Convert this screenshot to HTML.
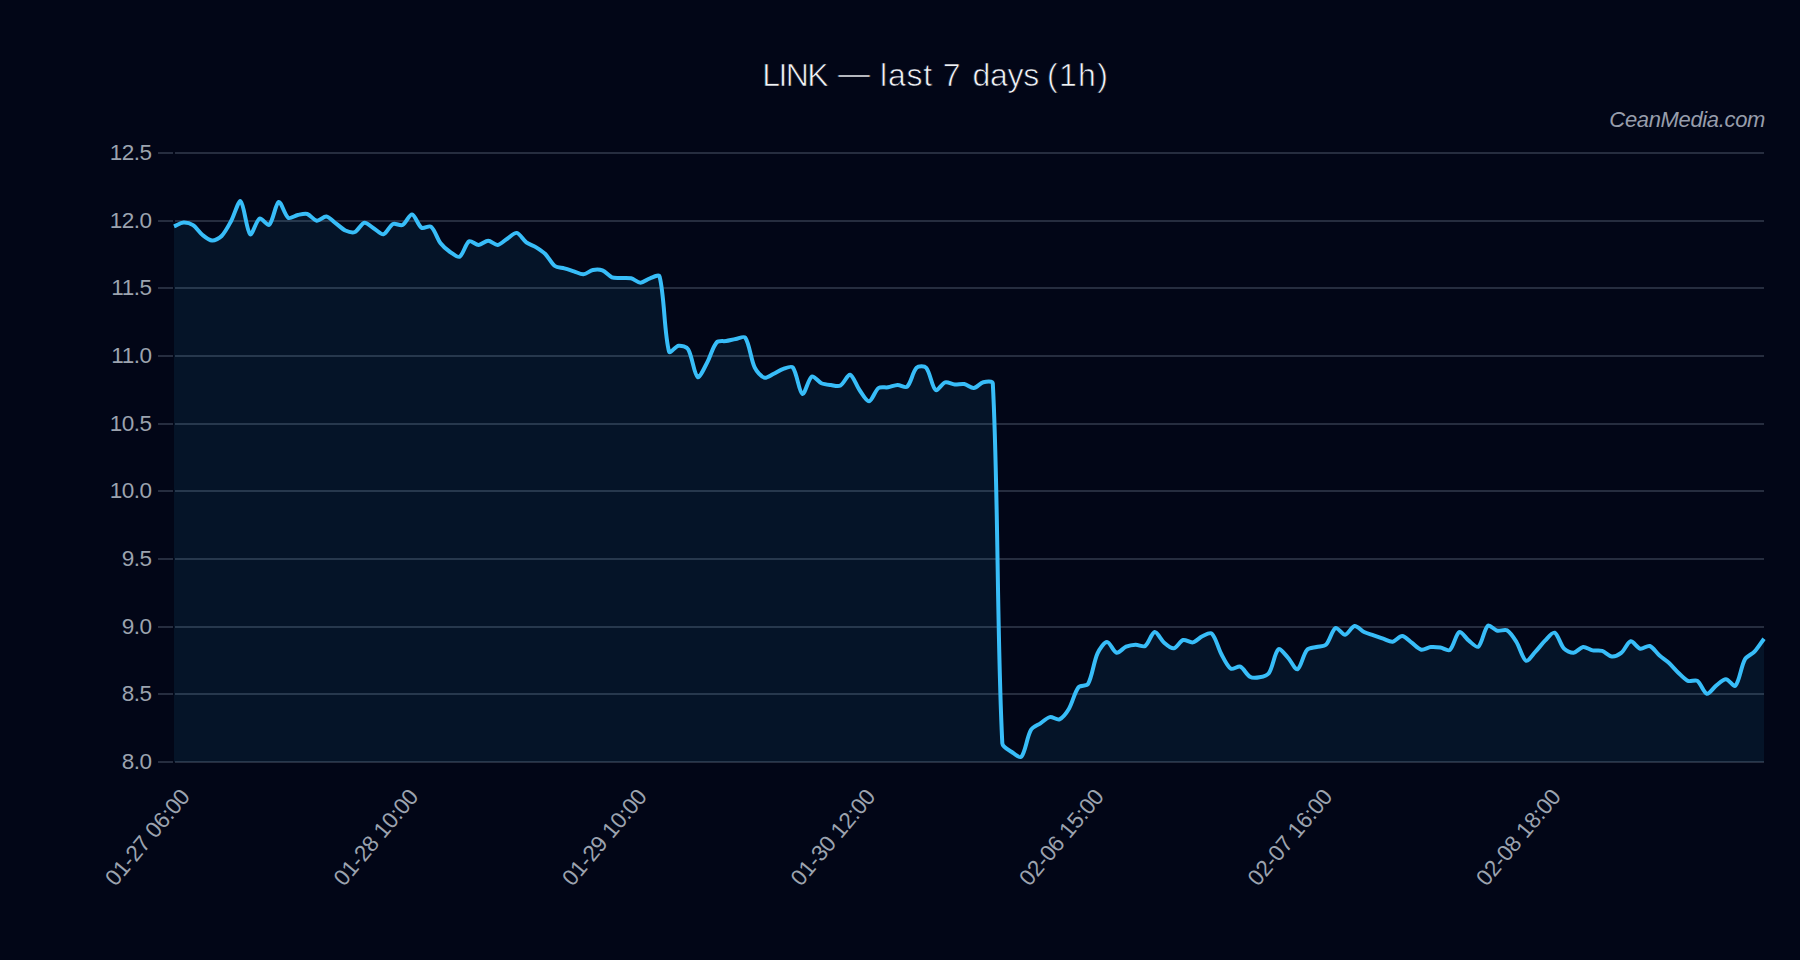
<!DOCTYPE html>
<html lang="en"><head><meta charset="utf-8"><title>LINK — last 7 days (1h)</title>
<style>
html,body{margin:0;padding:0;background:#020617;}
body{width:1800px;height:960px;overflow:hidden;font-family:"Liberation Sans",sans-serif;}
svg{display:block}
text{font-family:"Liberation Sans",sans-serif;}
.title{font-size:32px;fill:#f1f3f6;stroke:#020617;stroke-width:0.7px;}
.wm{font-size:22px;font-style:italic;fill:#979dab;letter-spacing:-0.35px;}
.yt{font-size:22.5px;fill:#9ca3af;letter-spacing:-0.45px;}
.xt{font-size:22.5px;fill:#9ca3af;letter-spacing:-0.25px;}
</style></head><body>
<svg width="1800" height="960" viewBox="0 0 1800 960">
<rect width="1800" height="960" fill="#020617"/>
<rect x="158" y="152" width="1606" height="2" fill="rgba(148,163,184,0.25)"/>
<rect x="158" y="220" width="1606" height="2" fill="rgba(148,163,184,0.25)"/>
<rect x="158" y="287" width="1606" height="2" fill="rgba(148,163,184,0.25)"/>
<rect x="158" y="355" width="1606" height="2" fill="rgba(148,163,184,0.25)"/>
<rect x="158" y="423" width="1606" height="2" fill="rgba(148,163,184,0.25)"/>
<rect x="158" y="490" width="1606" height="2" fill="rgba(148,163,184,0.25)"/>
<rect x="158" y="558" width="1606" height="2" fill="rgba(148,163,184,0.25)"/>
<rect x="158" y="626" width="1606" height="2" fill="rgba(148,163,184,0.25)"/>
<rect x="158" y="693" width="1606" height="2" fill="rgba(148,163,184,0.25)"/>
<rect x="158" y="761" width="1606" height="2" fill="rgba(148,163,184,0.25)"/>

<rect x="173" y="152" width="2" height="611" fill="#020617"/>
<path d="M174.00 226.40 C176.86 225.23 180.61 222.68 183.52 222.50 C186.32 222.32 190.64 223.62 193.04 225.20 C196.35 227.37 199.40 232.46 202.56 235.00 C205.11 237.05 209.17 240.35 212.08 240.50 C214.88 240.65 219.48 238.18 221.60 236.00 C225.19 232.33 228.57 225.66 231.13 221.00 C234.28 215.25 238.42 199.76 240.65 201.30 C244.13 203.72 246.45 230.84 250.17 234.20 C252.16 236.00 256.17 220.24 259.69 218.50 C261.88 217.42 267.40 226.36 269.21 224.80 C273.12 221.41 275.46 203.20 278.73 202.00 C281.17 201.10 284.54 215.26 288.25 217.80 C290.25 219.16 294.86 215.58 297.77 215.00 C300.58 214.44 304.72 213.23 307.29 214.00 C310.43 214.94 313.80 220.30 316.81 220.70 C319.51 221.05 323.65 216.13 326.34 216.50 C329.36 216.91 333.03 221.22 335.86 223.30 C338.74 225.42 342.22 229.06 345.38 230.50 C347.93 231.67 352.50 232.98 354.90 232.00 C358.21 230.64 361.31 223.27 364.42 222.70 C367.02 222.22 371.08 226.76 373.94 228.50 C376.80 230.24 380.93 234.90 383.46 234.30 C386.64 233.55 389.59 225.66 392.98 224.00 C395.30 222.87 400.20 226.15 402.50 225.00 C405.91 223.30 409.36 214.12 412.02 214.50 C415.08 214.93 417.95 225.40 421.54 227.70 C423.66 229.06 429.16 225.14 431.07 226.70 C434.87 229.82 437.17 238.77 440.59 243.30 C442.89 246.36 446.97 249.80 450.11 252.00 C452.69 253.82 457.52 257.89 459.63 256.70 C463.23 254.68 465.49 243.57 469.15 241.30 C471.21 240.03 475.85 244.99 478.67 244.90 C481.56 244.81 485.34 240.70 488.19 240.70 C491.05 240.70 494.98 245.19 497.71 244.90 C500.69 244.59 504.35 240.52 507.23 238.70 C510.06 236.92 514.16 232.41 516.75 232.90 C519.87 233.49 523.10 239.93 526.28 242.30 C528.81 244.19 533.08 245.43 535.80 247.10 C538.79 248.94 542.84 251.54 545.32 254.00 C548.55 257.21 551.36 263.37 554.84 266.00 C557.07 267.69 561.52 267.61 564.36 268.40 C567.23 269.20 571.03 270.42 573.88 271.30 C576.74 272.19 580.61 274.49 583.40 274.30 C586.32 274.10 589.93 270.61 592.92 270.00 C595.65 269.44 599.89 269.42 602.44 270.40 C605.60 271.61 608.81 276.06 611.96 277.30 C614.52 278.31 618.63 277.75 621.49 277.90 C624.34 278.05 628.29 277.61 631.01 278.30 C634.00 279.05 637.67 282.70 640.53 282.70 C643.38 282.70 647.08 279.27 650.05 278.30 C652.79 277.41 658.92 274.00 659.57 276.50 C664.63 296.02 664.12 333.62 669.09 351.70 C669.83 354.38 675.61 346.08 678.61 345.70 C681.32 345.36 686.66 346.88 688.13 349.30 C692.37 356.27 694.06 374.51 697.65 377.00 C699.78 378.47 704.68 367.05 707.17 362.50 C710.39 356.64 712.70 346.81 716.69 342.30 C718.41 340.36 723.38 341.49 726.22 341.00 C729.09 340.50 732.86 339.50 735.74 339.00 C738.58 338.51 743.92 335.69 745.26 337.70 C749.63 344.30 750.81 359.36 754.78 367.70 C756.52 371.36 761.03 376.67 764.30 377.70 C766.74 378.47 771.02 375.01 773.82 373.70 C776.73 372.34 780.33 369.78 783.34 368.80 C786.04 367.92 791.41 365.58 792.86 367.50 C797.12 373.14 799.04 392.42 802.38 394.00 C804.75 395.12 808.30 378.54 811.90 376.50 C814.01 375.30 818.31 381.79 821.43 383.20 C824.02 384.37 828.06 384.75 830.95 385.10 C833.78 385.44 838.18 386.73 840.47 385.50 C843.90 383.64 847.45 374.20 849.99 374.80 C853.16 375.55 856.38 385.64 859.51 390.00 C862.09 393.59 866.32 401.58 869.03 401.30 C872.03 400.98 874.94 390.65 878.55 388.00 C880.66 386.45 885.26 387.76 888.07 387.30 C890.97 386.83 894.72 384.99 897.59 384.90 C900.43 384.81 905.32 388.32 907.11 386.70 C911.04 383.16 912.69 371.64 916.63 367.70 C918.40 365.94 924.55 365.81 926.16 367.70 C930.26 372.50 931.87 387.06 935.68 390.00 C937.59 391.47 942.02 383.33 945.20 382.40 C947.73 381.65 951.83 384.16 954.72 384.40 C957.55 384.64 961.50 383.48 964.24 384.00 C967.21 384.56 971.01 388.26 973.76 388.00 C976.73 387.72 980.21 382.94 983.28 382.20 C985.92 381.56 992.65 380.59 992.80 383.40 C998.37 488.92 996.81 636.54 1002.32 743.30 C1002.52 747.12 1008.71 749.80 1011.84 752.00 C1014.42 753.82 1019.81 758.50 1021.37 756.70 C1025.52 751.90 1026.84 737.10 1030.89 730.00 C1032.55 727.08 1037.52 725.26 1040.41 723.30 C1043.23 721.39 1046.86 717.75 1049.93 717.10 C1052.57 716.55 1057.13 720.33 1059.45 719.30 C1062.84 717.81 1066.81 712.33 1068.97 708.70 C1072.52 702.73 1074.50 692.48 1078.49 687.30 C1080.21 685.07 1086.65 686.43 1088.01 684.00 C1092.36 676.23 1093.62 661.93 1097.53 653.30 C1099.33 649.33 1104.15 642.09 1107.05 642.00 C1109.87 641.91 1113.38 651.91 1116.57 652.70 C1119.09 653.32 1123.03 647.99 1126.10 646.70 C1128.74 645.59 1132.74 644.81 1135.62 644.70 C1138.46 644.60 1143.07 647.38 1145.14 646.00 C1148.78 643.57 1151.56 632.54 1154.66 632.00 C1157.28 631.55 1160.95 639.94 1164.18 642.70 C1166.67 644.83 1171.04 648.68 1173.70 648.30 C1176.75 647.87 1180.01 641.00 1183.22 640.00 C1185.72 639.23 1190.09 642.92 1192.74 642.40 C1195.80 641.81 1199.22 637.71 1202.26 636.30 C1204.93 635.07 1210.04 631.98 1211.78 633.60 C1215.75 637.29 1218.09 648.08 1221.31 654.00 C1223.80 658.61 1227.15 666.25 1230.83 668.70 C1232.87 670.06 1237.99 665.71 1240.35 666.70 C1243.70 668.11 1246.49 674.82 1249.87 676.70 C1252.20 678.00 1256.66 677.82 1259.39 677.30 C1262.37 676.74 1267.26 675.53 1268.91 673.10 C1272.97 667.13 1274.60 652.42 1278.43 649.30 C1280.32 647.77 1285.35 654.87 1287.95 657.60 C1291.06 660.87 1295.12 670.24 1297.47 669.30 C1300.83 667.96 1303.09 654.57 1306.99 650.00 C1308.80 647.88 1313.63 647.80 1316.51 647.00 C1319.34 646.21 1324.11 646.62 1326.04 644.70 C1329.82 640.92 1332.00 629.87 1335.56 628.00 C1337.71 626.87 1342.37 634.98 1345.08 634.70 C1348.08 634.38 1351.55 626.43 1354.60 626.00 C1357.26 625.62 1361.11 630.53 1364.12 632.00 C1366.82 633.32 1370.79 634.30 1373.64 635.30 C1376.50 636.31 1380.29 637.73 1383.16 638.70 C1386.00 639.65 1389.98 642.08 1392.68 641.70 C1395.69 641.27 1399.42 635.85 1402.20 636.00 C1405.13 636.15 1408.89 640.66 1411.72 642.70 C1414.60 644.77 1418.13 648.98 1421.25 649.70 C1423.85 650.30 1427.86 647.42 1430.77 647.10 C1433.57 646.79 1437.47 647.17 1440.29 647.60 C1443.19 648.04 1447.95 651.52 1449.81 650.00 C1453.66 646.84 1455.83 633.71 1459.33 632.00 C1461.54 630.92 1465.80 638.34 1468.85 640.70 C1471.51 642.75 1476.50 648.18 1478.37 646.70 C1482.21 643.68 1484.00 628.97 1487.89 625.70 C1489.71 624.17 1494.38 629.97 1497.41 630.70 C1500.10 631.35 1504.72 628.99 1506.93 630.30 C1510.44 632.38 1514.07 638.19 1516.46 642.00 C1519.78 647.31 1522.46 658.91 1525.98 660.70 C1528.17 661.82 1532.79 654.54 1535.50 651.70 C1538.50 648.54 1541.94 643.77 1545.02 640.70 C1547.65 638.07 1552.25 631.74 1554.54 632.70 C1557.96 634.14 1560.39 644.84 1564.06 648.70 C1566.10 650.84 1570.82 652.93 1573.58 652.70 C1576.53 652.45 1580.11 647.46 1583.10 647.10 C1585.83 646.77 1589.69 649.81 1592.62 650.40 C1595.40 650.95 1599.49 650.06 1602.14 650.90 C1605.20 651.86 1608.69 656.09 1611.66 656.40 C1614.41 656.69 1618.88 654.73 1621.19 652.90 C1624.59 650.20 1627.54 642.00 1630.71 641.30 C1633.25 640.74 1637.09 647.93 1640.23 648.70 C1642.80 649.34 1647.31 645.16 1649.75 646.00 C1653.02 647.14 1656.27 652.67 1659.27 655.30 C1661.98 657.68 1666.13 660.27 1668.79 662.70 C1671.84 665.49 1675.32 669.84 1678.31 672.70 C1681.03 675.30 1684.58 679.50 1687.83 680.90 C1690.29 681.96 1695.22 679.46 1697.35 680.90 C1700.93 683.30 1703.69 692.96 1706.87 693.70 C1709.41 694.28 1713.37 687.59 1716.40 685.30 C1719.08 683.27 1723.09 679.24 1725.92 679.30 C1728.80 679.36 1733.78 687.44 1735.44 685.70 C1739.49 681.44 1740.98 666.42 1744.96 659.30 C1746.69 656.19 1752.01 654.28 1754.48 651.60 C1757.72 648.10 1761.14 642.57 1764.00 638.70 L1764.00 762.00 L174.00 762.00 Z" fill="rgba(56,189,248,0.08)"/>
<path d="M174.00 226.40 C176.86 225.23 180.61 222.68 183.52 222.50 C186.32 222.32 190.64 223.62 193.04 225.20 C196.35 227.37 199.40 232.46 202.56 235.00 C205.11 237.05 209.17 240.35 212.08 240.50 C214.88 240.65 219.48 238.18 221.60 236.00 C225.19 232.33 228.57 225.66 231.13 221.00 C234.28 215.25 238.42 199.76 240.65 201.30 C244.13 203.72 246.45 230.84 250.17 234.20 C252.16 236.00 256.17 220.24 259.69 218.50 C261.88 217.42 267.40 226.36 269.21 224.80 C273.12 221.41 275.46 203.20 278.73 202.00 C281.17 201.10 284.54 215.26 288.25 217.80 C290.25 219.16 294.86 215.58 297.77 215.00 C300.58 214.44 304.72 213.23 307.29 214.00 C310.43 214.94 313.80 220.30 316.81 220.70 C319.51 221.05 323.65 216.13 326.34 216.50 C329.36 216.91 333.03 221.22 335.86 223.30 C338.74 225.42 342.22 229.06 345.38 230.50 C347.93 231.67 352.50 232.98 354.90 232.00 C358.21 230.64 361.31 223.27 364.42 222.70 C367.02 222.22 371.08 226.76 373.94 228.50 C376.80 230.24 380.93 234.90 383.46 234.30 C386.64 233.55 389.59 225.66 392.98 224.00 C395.30 222.87 400.20 226.15 402.50 225.00 C405.91 223.30 409.36 214.12 412.02 214.50 C415.08 214.93 417.95 225.40 421.54 227.70 C423.66 229.06 429.16 225.14 431.07 226.70 C434.87 229.82 437.17 238.77 440.59 243.30 C442.89 246.36 446.97 249.80 450.11 252.00 C452.69 253.82 457.52 257.89 459.63 256.70 C463.23 254.68 465.49 243.57 469.15 241.30 C471.21 240.03 475.85 244.99 478.67 244.90 C481.56 244.81 485.34 240.70 488.19 240.70 C491.05 240.70 494.98 245.19 497.71 244.90 C500.69 244.59 504.35 240.52 507.23 238.70 C510.06 236.92 514.16 232.41 516.75 232.90 C519.87 233.49 523.10 239.93 526.28 242.30 C528.81 244.19 533.08 245.43 535.80 247.10 C538.79 248.94 542.84 251.54 545.32 254.00 C548.55 257.21 551.36 263.37 554.84 266.00 C557.07 267.69 561.52 267.61 564.36 268.40 C567.23 269.20 571.03 270.42 573.88 271.30 C576.74 272.19 580.61 274.49 583.40 274.30 C586.32 274.10 589.93 270.61 592.92 270.00 C595.65 269.44 599.89 269.42 602.44 270.40 C605.60 271.61 608.81 276.06 611.96 277.30 C614.52 278.31 618.63 277.75 621.49 277.90 C624.34 278.05 628.29 277.61 631.01 278.30 C634.00 279.05 637.67 282.70 640.53 282.70 C643.38 282.70 647.08 279.27 650.05 278.30 C652.79 277.41 658.92 274.00 659.57 276.50 C664.63 296.02 664.12 333.62 669.09 351.70 C669.83 354.38 675.61 346.08 678.61 345.70 C681.32 345.36 686.66 346.88 688.13 349.30 C692.37 356.27 694.06 374.51 697.65 377.00 C699.78 378.47 704.68 367.05 707.17 362.50 C710.39 356.64 712.70 346.81 716.69 342.30 C718.41 340.36 723.38 341.49 726.22 341.00 C729.09 340.50 732.86 339.50 735.74 339.00 C738.58 338.51 743.92 335.69 745.26 337.70 C749.63 344.30 750.81 359.36 754.78 367.70 C756.52 371.36 761.03 376.67 764.30 377.70 C766.74 378.47 771.02 375.01 773.82 373.70 C776.73 372.34 780.33 369.78 783.34 368.80 C786.04 367.92 791.41 365.58 792.86 367.50 C797.12 373.14 799.04 392.42 802.38 394.00 C804.75 395.12 808.30 378.54 811.90 376.50 C814.01 375.30 818.31 381.79 821.43 383.20 C824.02 384.37 828.06 384.75 830.95 385.10 C833.78 385.44 838.18 386.73 840.47 385.50 C843.90 383.64 847.45 374.20 849.99 374.80 C853.16 375.55 856.38 385.64 859.51 390.00 C862.09 393.59 866.32 401.58 869.03 401.30 C872.03 400.98 874.94 390.65 878.55 388.00 C880.66 386.45 885.26 387.76 888.07 387.30 C890.97 386.83 894.72 384.99 897.59 384.90 C900.43 384.81 905.32 388.32 907.11 386.70 C911.04 383.16 912.69 371.64 916.63 367.70 C918.40 365.94 924.55 365.81 926.16 367.70 C930.26 372.50 931.87 387.06 935.68 390.00 C937.59 391.47 942.02 383.33 945.20 382.40 C947.73 381.65 951.83 384.16 954.72 384.40 C957.55 384.64 961.50 383.48 964.24 384.00 C967.21 384.56 971.01 388.26 973.76 388.00 C976.73 387.72 980.21 382.94 983.28 382.20 C985.92 381.56 992.65 380.59 992.80 383.40 C998.37 488.92 996.81 636.54 1002.32 743.30 C1002.52 747.12 1008.71 749.80 1011.84 752.00 C1014.42 753.82 1019.81 758.50 1021.37 756.70 C1025.52 751.90 1026.84 737.10 1030.89 730.00 C1032.55 727.08 1037.52 725.26 1040.41 723.30 C1043.23 721.39 1046.86 717.75 1049.93 717.10 C1052.57 716.55 1057.13 720.33 1059.45 719.30 C1062.84 717.81 1066.81 712.33 1068.97 708.70 C1072.52 702.73 1074.50 692.48 1078.49 687.30 C1080.21 685.07 1086.65 686.43 1088.01 684.00 C1092.36 676.23 1093.62 661.93 1097.53 653.30 C1099.33 649.33 1104.15 642.09 1107.05 642.00 C1109.87 641.91 1113.38 651.91 1116.57 652.70 C1119.09 653.32 1123.03 647.99 1126.10 646.70 C1128.74 645.59 1132.74 644.81 1135.62 644.70 C1138.46 644.60 1143.07 647.38 1145.14 646.00 C1148.78 643.57 1151.56 632.54 1154.66 632.00 C1157.28 631.55 1160.95 639.94 1164.18 642.70 C1166.67 644.83 1171.04 648.68 1173.70 648.30 C1176.75 647.87 1180.01 641.00 1183.22 640.00 C1185.72 639.23 1190.09 642.92 1192.74 642.40 C1195.80 641.81 1199.22 637.71 1202.26 636.30 C1204.93 635.07 1210.04 631.98 1211.78 633.60 C1215.75 637.29 1218.09 648.08 1221.31 654.00 C1223.80 658.61 1227.15 666.25 1230.83 668.70 C1232.87 670.06 1237.99 665.71 1240.35 666.70 C1243.70 668.11 1246.49 674.82 1249.87 676.70 C1252.20 678.00 1256.66 677.82 1259.39 677.30 C1262.37 676.74 1267.26 675.53 1268.91 673.10 C1272.97 667.13 1274.60 652.42 1278.43 649.30 C1280.32 647.77 1285.35 654.87 1287.95 657.60 C1291.06 660.87 1295.12 670.24 1297.47 669.30 C1300.83 667.96 1303.09 654.57 1306.99 650.00 C1308.80 647.88 1313.63 647.80 1316.51 647.00 C1319.34 646.21 1324.11 646.62 1326.04 644.70 C1329.82 640.92 1332.00 629.87 1335.56 628.00 C1337.71 626.87 1342.37 634.98 1345.08 634.70 C1348.08 634.38 1351.55 626.43 1354.60 626.00 C1357.26 625.62 1361.11 630.53 1364.12 632.00 C1366.82 633.32 1370.79 634.30 1373.64 635.30 C1376.50 636.31 1380.29 637.73 1383.16 638.70 C1386.00 639.65 1389.98 642.08 1392.68 641.70 C1395.69 641.27 1399.42 635.85 1402.20 636.00 C1405.13 636.15 1408.89 640.66 1411.72 642.70 C1414.60 644.77 1418.13 648.98 1421.25 649.70 C1423.85 650.30 1427.86 647.42 1430.77 647.10 C1433.57 646.79 1437.47 647.17 1440.29 647.60 C1443.19 648.04 1447.95 651.52 1449.81 650.00 C1453.66 646.84 1455.83 633.71 1459.33 632.00 C1461.54 630.92 1465.80 638.34 1468.85 640.70 C1471.51 642.75 1476.50 648.18 1478.37 646.70 C1482.21 643.68 1484.00 628.97 1487.89 625.70 C1489.71 624.17 1494.38 629.97 1497.41 630.70 C1500.10 631.35 1504.72 628.99 1506.93 630.30 C1510.44 632.38 1514.07 638.19 1516.46 642.00 C1519.78 647.31 1522.46 658.91 1525.98 660.70 C1528.17 661.82 1532.79 654.54 1535.50 651.70 C1538.50 648.54 1541.94 643.77 1545.02 640.70 C1547.65 638.07 1552.25 631.74 1554.54 632.70 C1557.96 634.14 1560.39 644.84 1564.06 648.70 C1566.10 650.84 1570.82 652.93 1573.58 652.70 C1576.53 652.45 1580.11 647.46 1583.10 647.10 C1585.83 646.77 1589.69 649.81 1592.62 650.40 C1595.40 650.95 1599.49 650.06 1602.14 650.90 C1605.20 651.86 1608.69 656.09 1611.66 656.40 C1614.41 656.69 1618.88 654.73 1621.19 652.90 C1624.59 650.20 1627.54 642.00 1630.71 641.30 C1633.25 640.74 1637.09 647.93 1640.23 648.70 C1642.80 649.34 1647.31 645.16 1649.75 646.00 C1653.02 647.14 1656.27 652.67 1659.27 655.30 C1661.98 657.68 1666.13 660.27 1668.79 662.70 C1671.84 665.49 1675.32 669.84 1678.31 672.70 C1681.03 675.30 1684.58 679.50 1687.83 680.90 C1690.29 681.96 1695.22 679.46 1697.35 680.90 C1700.93 683.30 1703.69 692.96 1706.87 693.70 C1709.41 694.28 1713.37 687.59 1716.40 685.30 C1719.08 683.27 1723.09 679.24 1725.92 679.30 C1728.80 679.36 1733.78 687.44 1735.44 685.70 C1739.49 681.44 1740.98 666.42 1744.96 659.30 C1746.69 656.19 1752.01 654.28 1754.48 651.60 C1757.72 648.10 1761.14 642.57 1764.00 638.70" fill="none" stroke="#38bdf8" stroke-width="4" stroke-linejoin="round" stroke-linecap="butt"/>
<text y="85.7" class="title"><tspan x="762.3" dy="0" style="letter-spacing:-1.6px">LINK </tspan><tspan x="838" dy="-1.6" style="letter-spacing:0px">— </tspan><tspan x="880" dy="1.6" style="letter-spacing:0.8px">last </tspan><tspan x="942.8" dy="0" style="letter-spacing:0px">7 </tspan><tspan x="972.5" dy="0" style="letter-spacing:-0.3px">days </tspan><tspan x="1047" dy="0" style="letter-spacing:1.3px">(1h)</tspan></text>
<text x="1765" y="127" text-anchor="end" class="wm">CeanMedia.com</text>
<text x="151.7" y="160.1" text-anchor="end" class="yt">12.5</text>
<text x="151.7" y="227.8" text-anchor="end" class="yt">12.0</text>
<text x="151.7" y="295.4" text-anchor="end" class="yt">11.5</text>
<text x="151.7" y="363.1" text-anchor="end" class="yt">11.0</text>
<text x="151.7" y="430.8" text-anchor="end" class="yt">10.5</text>
<text x="151.7" y="498.4" text-anchor="end" class="yt">10.0</text>
<text x="151.7" y="566.1" text-anchor="end" class="yt">9.5</text>
<text x="151.7" y="633.8" text-anchor="end" class="yt">9.0</text>
<text x="151.7" y="701.4" text-anchor="end" class="yt">8.5</text>
<text x="151.7" y="769.1" text-anchor="end" class="yt">8.0</text>

<text transform="translate(191.0 797.3) rotate(-50)" text-anchor="end" class="xt">01-27 06:00</text>
<text transform="translate(419.5 797.3) rotate(-50)" text-anchor="end" class="xt">01-28 10:00</text>
<text transform="translate(648.0 797.3) rotate(-50)" text-anchor="end" class="xt">01-29 10:00</text>
<text transform="translate(876.5 797.3) rotate(-50)" text-anchor="end" class="xt">01-30 12:00</text>
<text transform="translate(1105.0 797.3) rotate(-50)" text-anchor="end" class="xt">02-06 15:00</text>
<text transform="translate(1333.5 797.3) rotate(-50)" text-anchor="end" class="xt">02-07 16:00</text>
<text transform="translate(1562.0 797.3) rotate(-50)" text-anchor="end" class="xt">02-08 18:00</text>

</svg>
</body></html>
